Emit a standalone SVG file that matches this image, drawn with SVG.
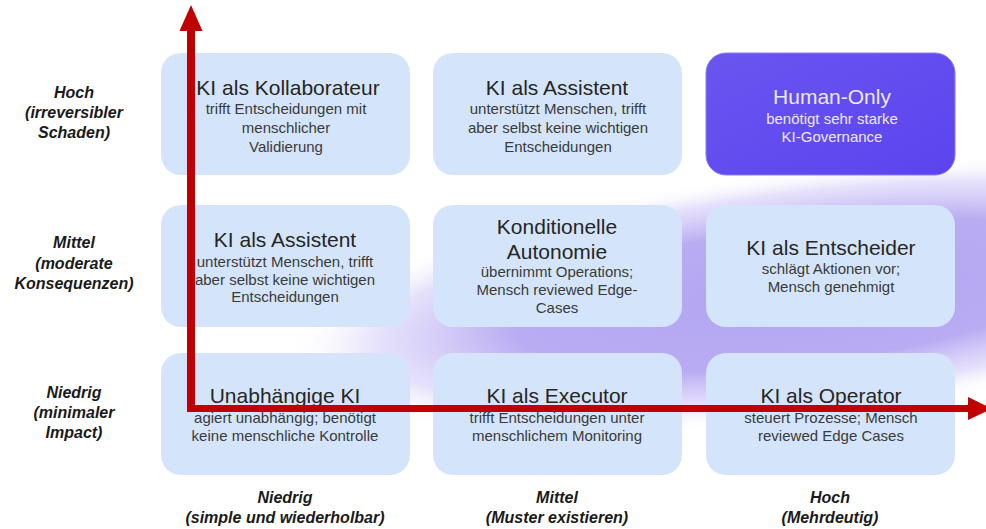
<svg xmlns="http://www.w3.org/2000/svg" width="986" height="529" viewBox="0 0 986 529">
<defs>
<radialGradient id="glow" cx="0" cy="0" r="1" gradientUnits="userSpaceOnUse" gradientTransform="translate(800 295) rotate(-7) scale(520 125)">
<stop offset="0" stop-color="#b3a5f2"/>
<stop offset="0.55" stop-color="#b9acf3"/>
<stop offset="0.82" stop-color="#dcd5f9" stop-opacity="0.7"/>
<stop offset="1" stop-color="#ffffff" stop-opacity="0"/>
</radialGradient>
<linearGradient id="human" x1="0" y1="0" x2="1" y2="1">
<stop offset="0" stop-color="#6a55f0"/>
<stop offset="1" stop-color="#5b44ee"/>
</linearGradient>
</defs>
<style>
.box{fill:#d4e5fb;}
.t{font-family:"Liberation Sans",Arial,sans-serif;font-size:21px;fill:#262626;text-anchor:middle;}
.b{font-family:"Liberation Sans",Arial,sans-serif;font-size:15px;fill:#3a3a3a;text-anchor:middle;}
.w{fill:#ece8ff;}
.lab{font-family:"Liberation Sans",Arial,sans-serif;font-size:16px;font-weight:bold;font-style:italic;fill:#1a1a1a;text-anchor:middle;}
</style>
<rect width="986" height="529" fill="#ffffff"/>
<rect x="0" y="0" width="986" height="529" fill="url(#glow)"/>

<g id="labels-y">
<text class="lab" x="74" y="98">Hoch</text>
<text class="lab" x="74" y="118">(irreversibler</text>
<text class="lab" x="74" y="138">Schaden)</text>
<text class="lab" x="74" y="248">Mittel</text>
<text class="lab" x="74" y="269">(moderate</text>
<text class="lab" x="74" y="289">Konsequenzen)</text>
<text class="lab" x="74" y="398">Niedrig</text>
<text class="lab" x="74" y="418">(minimaler</text>
<text class="lab" x="74" y="438">Impact)</text>
</g>
<g id="labels-x">
<text class="lab" x="285" y="503">Niedrig</text>
<text class="lab" x="285" y="523">(simple und wiederholbar)</text>
<text class="lab" x="557" y="503">Mittel</text>
<text class="lab" x="557" y="523">(Muster existieren)</text>
<text class="lab" x="830" y="503">Hoch</text>
<text class="lab" x="830" y="523">(Mehrdeutig)</text>
</g>

<g id="n11">
<rect class="box" x="161" y="53" width="249" height="122" rx="20"/>
<text class="t" x="288" y="95">KI als Kollaborateur</text>
<text class="b" x="286" y="114">trifft Entscheidungen mit</text>
<text class="b" x="286" y="133">menschlicher</text>
<text class="b" x="286" y="152">Validierung</text>
</g>
<g id="n12">
<rect class="box" x="433" y="53" width="249" height="122" rx="20"/>
<text class="t" x="557" y="95">KI als Assistent</text>
<text class="b" x="558" y="114">unterstützt Menschen, trifft</text>
<text class="b" x="558" y="133">aber selbst keine wichtigen</text>
<text class="b" x="558" y="152">Entscheidungen</text>
</g>
<g id="n13">
<rect x="706" y="53" width="249" height="122" rx="20" fill="url(#human)" stroke="#8a7cf3" stroke-width="1"/>
<text class="t w" x="832" y="104">Human-Only</text>
<text class="b w" x="832" y="124">benötigt sehr starke</text>
<text class="b w" x="832" y="142">KI-Governance</text>
</g>

<g id="n21">
<rect class="box" x="161" y="205" width="249" height="122" rx="20"/>
<text class="t" x="285" y="247">KI als Assistent</text>
<text class="b" x="285" y="267">unterstützt Menschen, trifft</text>
<text class="b" x="285" y="285">aber selbst keine wichtigen</text>
<text class="b" x="285" y="302">Entscheidungen</text>
</g>
<g id="n22">
<rect class="box" x="433" y="205" width="249" height="122" rx="20"/>
<text class="t" x="557" y="234">Konditionelle</text>
<text class="t" x="557" y="259">Autonomie</text>
<text class="b" x="557" y="277">übernimmt Operations;</text>
<text class="b" x="557" y="295">Mensch reviewed Edge-</text>
<text class="b" x="557" y="313">Cases</text>
</g>
<g id="n23">
<rect class="box" x="706" y="205" width="249" height="122" rx="20"/>
<text class="t" x="831" y="255">KI als Entscheider</text>
<text class="b" x="831" y="274">schlägt Aktionen vor;</text>
<text class="b" x="831" y="292">Mensch genehmigt</text>
</g>

<g id="n31">
<rect class="box" x="161" y="353" width="249" height="122" rx="20"/>
<text class="t" x="285" y="403">Unabhängige KI</text>
<text class="b" x="285" y="423">agiert unabhängig; benötigt</text>
<text class="b" x="285" y="441">keine menschliche Kontrolle</text>
</g>
<g id="n32">
<rect class="box" x="433" y="353" width="249" height="122" rx="20"/>
<text class="t" x="557" y="403">KI als Executor</text>
<text class="b" x="557" y="423">trifft Entscheidungen unter</text>
<text class="b" x="557" y="441">menschlichem Monitoring</text>
</g>
<g id="n33">
<rect class="box" x="706" y="353" width="249" height="122" rx="20"/>
<text class="t" x="831" y="403">KI als Operator</text>
<text class="b" x="831" y="423">steuert Prozesse; Mensch</text>
<text class="b" x="831" y="441">reviewed Edge Cases</text>
</g>

<g id="connectors">
<line x1="191" y1="412" x2="191" y2="30" stroke="#c00000" stroke-width="8"/>
<polygon points="191,5 179.5,31 202.5,31" fill="#c00000"/>
<line x1="187" y1="408.5" x2="970" y2="408.5" stroke="#c00000" stroke-width="7"/>
<polygon points="992,408.5 968,397 968,420" fill="#c00000"/>
</g>
</svg>
